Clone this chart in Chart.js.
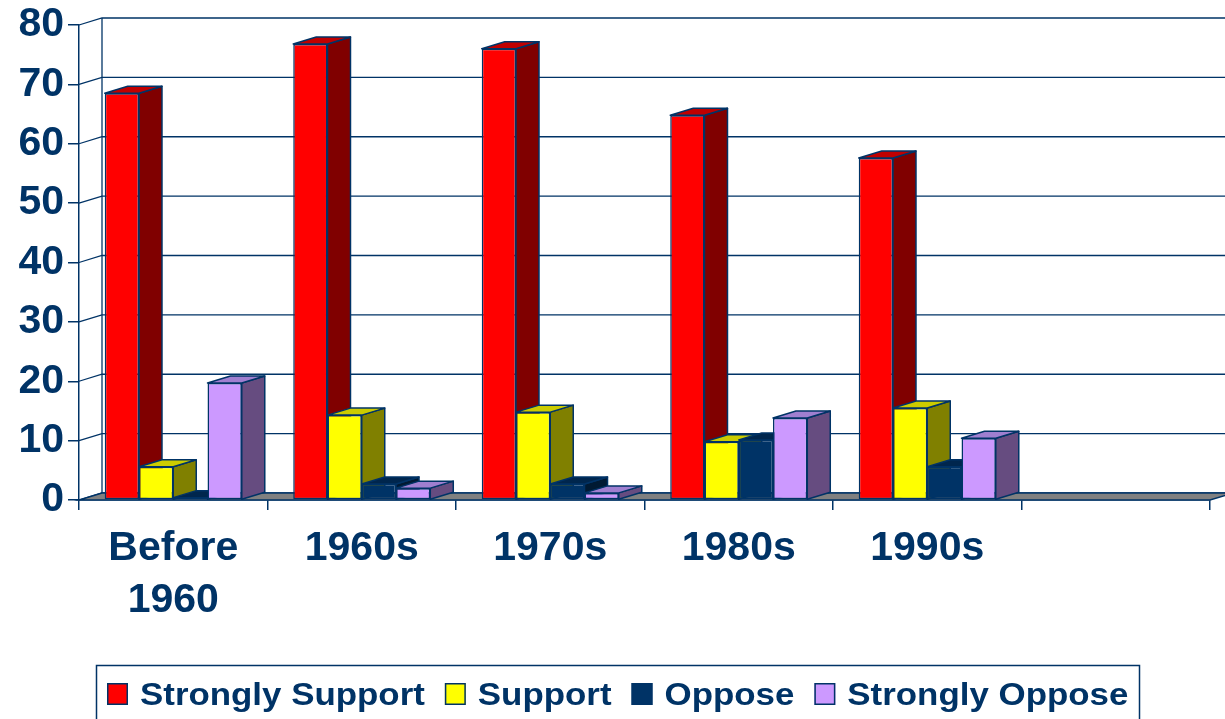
<!DOCTYPE html>
<html>
<head>
<meta charset="utf-8">
<script src="https://cdn.jsdelivr.net/npm/chart.js@4.4.1/dist/chart.umd.min.js"></script>
<style>
  body { margin: 0; background: #fff; }
</style>
</head>
<body>
<canvas id="grafico" width="1225" height="719"></canvas>
<script>
const ctx = document.getElementById('grafico');

// data
const decades = [['Before', '1960'], '1960s', '1970s', '1980s', '1990s', ''];
const seriesNames = ['Strongly Support', 'Support', 'Oppose', 'Strongly Oppose'];
const stronglySupport = [68.5, 76.8, 76.0, 64.8, 57.6];
const support = [5.6, 14.3, 14.8, 9.8, 15.5];
const oppose = [0.4, 2.7, 2.7, 10.1, 5.6];
const stronglyOppose = [19.7, 2.0, 1.2, 13.8, 10.4];
const yTicks = [0, 10, 20, 30, 40, 50, 60, 70, 80];

const navy = '#003366';
const frontColors = ['#FF0000', '#FFFF00', '#003366', '#CC99FF'];
const sideColors = ['#800000', '#808000', '#001A33', '#664C80'];
const topColors = ['#C00000', '#CCCC00', '#00264D', '#A07FD0'];
const DX = 23;
const DY = -7;
const font = '"Liberation Sans", Arial, sans-serif';

const poly = (c, pts, fill) => {
    c.beginPath();
    c.moveTo(pts[0][0], pts[0][1]);
    for (let i = 1; i < pts.length; i++) c.lineTo(pts[i][0], pts[i][1]);
    c.closePath();
    c.fillStyle = fill;
    c.fill();
    c.stroke();
}

// walls + floor, then every column (side, top, front) from left to right
const scene3d = {
    id: 'scene3d',
    beforeDatasetsDraw(chart) {
        const c = chart.ctx;
        const ys = chart.scales.y;
        const { left, right, bottom } = chart.chartArea;
        c.save();
        c.strokeStyle = navy;
        c.lineWidth = 1.3;
        yTicks.forEach(v => {
            const py = ys.getPixelForValue(v);
            c.beginPath();
            c.moveTo(left, py);
            c.lineTo(left + DX, py + DY);
            c.lineTo(chart.width + 5, py + DY);
            c.stroke();
        })
        c.beginPath();
        c.moveTo(left + DX, ys.getPixelForValue(0) + DY);
        c.lineTo(left + DX, ys.getPixelForValue(80) + DY);
        c.stroke();
        c.lineWidth = 1.5;
        poly(c, [[left, bottom], [right, bottom], [right + DX, bottom + DY], [left + DX, bottom + DY]], '#808080');

        c.lineJoin = 'round';
        chart.data.datasets.forEach((ds, i) => {
            chart.getDatasetMeta(i).data.forEach(bar => {
                const p = bar.getProps(['x', 'y', 'base', 'width'], true);
                if (p.y == null || isNaN(p.y)) return;
                const l = p.x - p.width / 2;
                const r = p.x + p.width / 2;
                c.strokeStyle = navy;
                c.lineWidth = 1.5;
                poly(c, [[r, p.y], [r + DX, p.y + DY], [r + DX, p.base + DY], [r, p.base]], sideColors[i]);
                poly(c, [[l, p.y], [l + DX, p.y + DY], [r + DX, p.y + DY], [r, p.y]], topColors[i]);
                bar.draw(c);
            })
        })
        c.restore();
    },
    beforeDatasetDraw() {
        return false;
    }
}

const legendBox = {
    id: 'legendBox',
    afterDraw(chart) {
        const c = chart.ctx;
        c.save();
        c.strokeStyle = navy;
        c.lineWidth = 1.5;
        c.strokeRect(96.5, 665.5, 1043, 70);
        c.font = `bold 32px ${font}`;
        c.textBaseline = 'alphabetic';
        let x = 107;
        chart.data.datasets.forEach((ds, i) => {
            c.fillStyle = frontColors[i];
            c.fillRect(x, 683, 21, 22);
            c.lineWidth = 1.5;
            c.strokeRect(x + 0.75, 683.75, 19.5, 20.5);
            c.fillStyle = navy;
            c.save();
            c.translate(x + 33, 705);
            c.scale(1.09, 1);
            c.fillText(ds.label, 0, 0);
            c.restore();
            x += 33 + c.measureText(ds.label).width * 1.09 + 20;
        })
        c.restore();
    }
}

const valores = [stronglySupport, support, oppose, stronglyOppose];

new Chart(ctx, {
    type: 'bar',
    data: {
        labels: decades,
        datasets: seriesNames.map((nome, i) => ({
            label: nome,
            data: valores[i],
            backgroundColor: frontColors[i],
            borderColor: navy,
            borderWidth: 1.5,
            borderSkipped: false,
            categoryPercentage: 0.727,
            barPercentage: 1.0
        }))
    },
    options: {
        responsive: false,
        animation: false,
        layout: { padding: { top: 25, right: 15, left: 0, bottom: 0 } },
        plugins: {
            legend: { display: false },
            tooltip: { enabled: false }
        },
        scales: {
            x: {
                offset: true,
                afterFit: (scale) => { scale.height = 219 },
                grid: { offset: true, drawOnChartArea: false, tickLength: 10, color: navy, lineWidth: 1.5 },
                border: { display: true, color: navy, width: 1.5 },
                ticks: {
                    autoSkip: false,
                    maxRotation: 0,
                    padding: 13,
                    color: navy,
                    font: { family: font, size: 41, weight: 'bold', lineHeight: 1.27 }
                }
            },
            y: {
                min: 0,
                max: 80,
                afterFit: (scale) => { scale.width = 79 },
                afterBuildTicks: (scale) => { scale.ticks = yTicks.map(v => ({ value: v })) },
                grid: { drawOnChartArea: false, tickLength: 11, color: navy, lineWidth: 1.5 },
                border: { display: true, color: navy, width: 1.5 },
                ticks: {
                    padding: 4,
                    color: navy,
                    font: { family: font, size: 41, weight: 'bold', lineHeight: 1.0 }
                }
            }
        }
    },
    plugins: [scene3d, legendBox]
});
</script>
</body>
</html>
